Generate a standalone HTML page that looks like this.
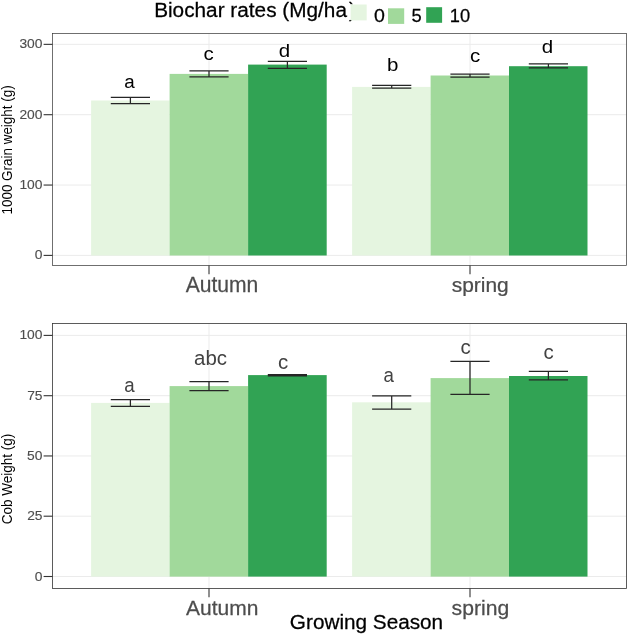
<!DOCTYPE html>
<html lang="en"><head><meta charset="utf-8"><title>Biochar rates chart</title>
<style>
html,body{margin:0;padding:0;background:#fff;}
body{width:628px;height:636px;overflow:hidden;}
svg{display:block;font-family:"Liberation Sans", Arial, Helvetica, sans-serif;}
text{stroke-width:0.25px;}
.grid{stroke:#ebebeb;stroke-width:1;}
.ax{stroke:#333;stroke-width:1.1;}
.eb{stroke:#262626;stroke-width:1.25;fill:none;}
.bd{stroke:#333;fill:none;}
</style></head><body>
<svg width="628" height="636" viewBox="0 0 628 636">
<rect x="0" y="0" width="628" height="636" fill="#fff"/>

<rect x="52.5" y="33.5" width="574.0" height="232.0" fill="#fff"/>
<line class="grid" x1="52.5" x2="626.5" y1="44.35" y2="44.35"/>
<line class="grid" x1="52.5" x2="626.5" y1="114.7" y2="114.7"/>
<line class="grid" x1="52.5" x2="626.5" y1="185.05" y2="185.05"/>
<line class="grid" x1="52.5" x2="626.5" y1="255.4" y2="255.4"/>
<line class="grid" x1="209.0" x2="209.0" y1="33.5" y2="265.5"/>
<line class="grid" x1="470.0" x2="470.0" y1="33.5" y2="265.5"/>
<rect x="91.1" y="100.5" width="78.50" height="155.00" fill="#e5f5e0"/>
<rect x="169.6" y="73.9" width="78.50" height="181.60" fill="#a1d99b"/>
<rect x="248.1" y="64.6" width="78.60" height="190.90" fill="#31a354"/>
<rect x="352.1" y="86.9" width="78.50" height="168.60" fill="#e5f5e0"/>
<rect x="430.6" y="75.5" width="78.40" height="180.00" fill="#a1d99b"/>
<rect x="509.0" y="66.2" width="78.50" height="189.30" fill="#31a354"/>
<path class="eb" d="M110.8 97.3H150.0M110.8 103.7H150.0M130.4 97.3V103.7"/>
<path class="eb" d="M189.4 70.9H228.6M189.4 76.9H228.6M209.0 70.9V76.9"/>
<path class="eb" d="M267.8 61.3H307.0M267.8 68.3H307.0M287.4 61.3V68.3"/>
<path class="eb" d="M372.1 85.4H411.3M372.1 88.1H411.3M391.7 85.4V88.1"/>
<path class="eb" d="M450.4 74.0H489.6M450.4 77.0H489.6M470.0 74.0V77.0"/>
<path class="eb" d="M528.8 63.9H568.0M528.8 67.9H568.0M548.4 63.9V67.9"/>
<rect class="bd" x="52.5" y="33.5" width="574.0" height="232.0" stroke-width="0.7"/>
<line class="ax" x1="43.6" x2="52.5" y1="44.35" y2="44.35"/>
<text transform="translate(19.42,48.35) scale(1.040,1)" font-size="13.30" fill="#4d4d4d" stroke="#4d4d4d" style="stroke-width:0.12px">300</text>
<line class="ax" x1="43.6" x2="52.5" y1="114.7" y2="114.7"/>
<text transform="translate(19.42,118.70) scale(1.040,1)" font-size="13.30" fill="#4d4d4d" stroke="#4d4d4d" style="stroke-width:0.12px">200</text>
<line class="ax" x1="43.6" x2="52.5" y1="185.05" y2="185.05"/>
<text transform="translate(19.42,189.05) scale(1.040,1)" font-size="13.30" fill="#4d4d4d" stroke="#4d4d4d" style="stroke-width:0.12px">100</text>
<line class="ax" x1="43.6" x2="52.5" y1="255.4" y2="255.4"/>
<text transform="translate(34.81,259.40) scale(1.040,1)" font-size="13.30" fill="#4d4d4d" stroke="#4d4d4d" style="stroke-width:0.12px">0</text>
<line class="ax" x1="209.0" x2="209.0" y1="265.5" y2="274.2"/>
<line class="ax" x1="470.0" x2="470.0" y1="265.5" y2="274.2"/>
<text transform="translate(124.31,88.00) scale(0.990,1)" font-size="19.00" fill="#000" stroke="#000" style="stroke:none">a</text>
<text transform="translate(203.52,59.50) scale(1.080,1)" font-size="19.00" fill="#000" stroke="#000" style="stroke:none">c</text>
<text transform="translate(278.81,56.90) scale(1.080,1)" font-size="19.00" fill="#000" stroke="#000" style="stroke:none">d</text>
<text transform="translate(387.05,70.90) scale(1.080,1)" font-size="19.00" fill="#000" stroke="#000" style="stroke:none">b</text>
<text transform="translate(470.12,61.80) scale(1.080,1)" font-size="19.00" fill="#000" stroke="#000" style="stroke:none">c</text>
<text transform="translate(541.86,53.10) scale(1.080,1)" font-size="19.00" fill="#000" stroke="#000" style="stroke:none">d</text>
<text transform="translate(185.70,291.50) scale(0.997,1)" font-size="21.16" fill="#4d4d4d" stroke="#4d4d4d">Autumn</text>
<text transform="translate(451.68,291.50) scale(1.005,1)" font-size="20.83" fill="#4d4d4d" stroke="#4d4d4d">spring</text>
<text transform="translate(12.05,214.51) rotate(-90) scale(0.970,1)" font-size="13.86" fill="#000">1000 Grain weight (g)</text>
<rect x="52.5" y="323.5" width="574.0" height="265.0" fill="#fff"/>
<line class="grid" x1="52.5" x2="626.5" y1="335.4" y2="335.4"/>
<line class="grid" x1="52.5" x2="626.5" y1="395.7" y2="395.7"/>
<line class="grid" x1="52.5" x2="626.5" y1="455.95" y2="455.95"/>
<line class="grid" x1="52.5" x2="626.5" y1="516.2" y2="516.2"/>
<line class="grid" x1="52.5" x2="626.5" y1="576.5" y2="576.5"/>
<line class="grid" x1="209.0" x2="209.0" y1="323.5" y2="588.5"/>
<line class="grid" x1="470.0" x2="470.0" y1="323.5" y2="588.5"/>
<rect x="91.1" y="402.9" width="78.50" height="173.70" fill="#e5f5e0"/>
<rect x="169.6" y="386.1" width="78.50" height="190.50" fill="#a1d99b"/>
<rect x="248.1" y="375.1" width="78.60" height="201.50" fill="#31a354"/>
<rect x="352.1" y="402.3" width="78.50" height="174.30" fill="#e5f5e0"/>
<rect x="430.6" y="378.1" width="78.40" height="198.50" fill="#a1d99b"/>
<rect x="509.0" y="376.0" width="78.50" height="200.60" fill="#31a354"/>
<path class="eb" d="M110.8 399.7H150.0M110.8 406.4H150.0M130.4 399.7V406.4"/>
<path class="eb" d="M189.4 381.6H228.6M189.4 390.7H228.6M209.0 381.6V390.7"/>
<path class="eb" d="M267.8 374.6H307.0M267.8 375.9H307.0M287.4 374.6V375.9"/>
<path class="eb" d="M372.1 395.9H411.3M372.1 409.2H411.3M391.7 395.9V409.2"/>
<path class="eb" d="M450.4 361.3H489.6M450.4 394.4H489.6M470.0 361.3V394.4"/>
<path class="eb" d="M528.8 371.3H568.0M528.8 379.9H568.0M548.4 371.3V379.9"/>
<rect class="bd" x="52.5" y="323.5" width="574.0" height="265.0" stroke-width="0.8"/>
<line class="ax" x1="43.6" x2="52.5" y1="335.4" y2="335.4"/>
<text transform="translate(19.42,339.40) scale(1.040,1)" font-size="13.30" fill="#4d4d4d" stroke="#4d4d4d" style="stroke-width:0.12px">100</text>
<line class="ax" x1="43.6" x2="52.5" y1="395.7" y2="395.7"/>
<text transform="translate(27.18,399.70) scale(1.040,1)" font-size="13.30" fill="#4d4d4d" stroke="#4d4d4d" style="stroke-width:0.12px">75</text>
<line class="ax" x1="43.6" x2="52.5" y1="455.95" y2="455.95"/>
<text transform="translate(27.11,459.95) scale(1.040,1)" font-size="13.30" fill="#4d4d4d" stroke="#4d4d4d" style="stroke-width:0.12px">50</text>
<line class="ax" x1="43.6" x2="52.5" y1="516.2" y2="516.2"/>
<text transform="translate(27.18,520.20) scale(1.040,1)" font-size="13.30" fill="#4d4d4d" stroke="#4d4d4d" style="stroke-width:0.12px">25</text>
<line class="ax" x1="43.6" x2="52.5" y1="576.5" y2="576.5"/>
<text transform="translate(34.81,580.50) scale(1.040,1)" font-size="13.30" fill="#4d4d4d" stroke="#4d4d4d" style="stroke-width:0.12px">0</text>
<line class="ax" x1="209.0" x2="209.0" y1="588.5" y2="597.2"/>
<line class="ax" x1="470.0" x2="470.0" y1="588.5" y2="597.2"/>
<text transform="translate(124.13,392.40) scale(0.970,1)" font-size="19.30" fill="#434343" stroke="#434343" style="stroke:none">a</text>
<text transform="translate(194.05,364.50) scale(1.060,1)" font-size="19.30" fill="#434343" stroke="#434343" style="stroke:none">abc</text>
<text transform="translate(277.98,369.00) scale(1.060,1)" font-size="19.30" fill="#434343" stroke="#434343" style="stroke:none">c</text>
<text transform="translate(383.38,382.20) scale(0.970,1)" font-size="19.30" fill="#434343" stroke="#434343" style="stroke:none">a</text>
<text transform="translate(460.38,354.00) scale(1.060,1)" font-size="19.30" fill="#434343" stroke="#434343" style="stroke:none">c</text>
<text transform="translate(543.48,359.20) scale(1.060,1)" font-size="19.30" fill="#434343" stroke="#434343" style="stroke:none">c</text>
<text transform="translate(186.00,614.70) scale(1.006,1)" font-size="20.87" fill="#4d4d4d" stroke="#4d4d4d">Autumn</text>
<text transform="translate(451.57,614.80) scale(1.024,1)" font-size="20.69" fill="#4d4d4d" stroke="#4d4d4d">spring</text>
<text transform="translate(12.10,524.28) rotate(-90) scale(0.979,1)" font-size="13.79" fill="#000">Cob Weight (g)</text>
<text transform="translate(289.86,629.00) scale(1.044,1)" font-size="19.86" fill="#000" stroke="#000">Growing Season</text>
<text transform="translate(154.14,16.60) scale(1.054,1)" font-size="19.72" fill="#000" stroke="#000">Biochar rates (Mg/ha<tspan dx="1.8">)</tspan></text>
<rect x="349.6" y="4.3" width="19" height="15.6" fill="#fff"/>
<rect x="350.6" y="4.5" width="16.1" height="15.9" fill="#e5f5e0"/>
<rect x="388" y="8.3" width="16.2" height="15.6" fill="#a1d99b"/>
<rect x="426.2" y="7.2" width="15.9" height="15.6" fill="#31a354"/>
<text transform="translate(373.91,21.90) scale(1.020,1)" font-size="19.20" fill="#000" stroke="#000">0</text>
<text transform="translate(411.57,21.80) scale(0.954,1)" font-size="19.20" fill="#000" stroke="#000">5</text>
<text transform="translate(449.83,21.80) scale(0.952,1)" font-size="19.20" fill="#000" stroke="#000">10</text>
</svg></body></html>
